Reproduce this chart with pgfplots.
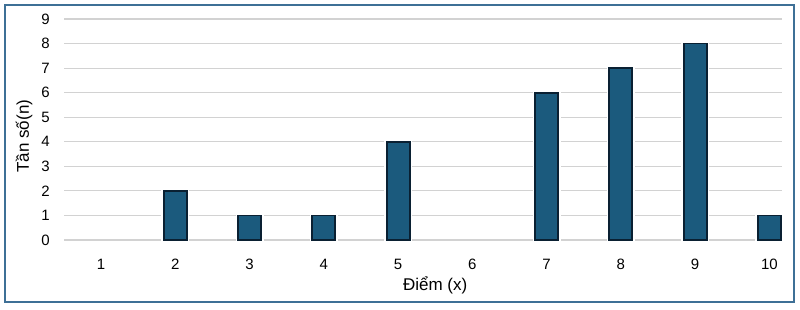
\documentclass[border=0pt]{standalone}
\usepackage{fontspec}
\setmainfont{Liberation Sans}
\usepackage{pgfplots}
\pgfplotsset{compat=1.18}
\definecolor{barfill}{RGB}{27,90,125}
\definecolor{baredge}{RGB}{10,32,50}
\definecolor{frameblue}{RGB}{62,112,150}
\definecolor{gridgray}{RGB}{210,210,210}
\begin{document}
\begin{tikzpicture}
\useasboundingbox (0,0) rectangle (800pt,309pt);
\draw[frameblue, line width=1.8pt] (5pt,7pt) rectangle (794pt,304pt);
\begin{axis}[
  at={(64pt,69pt)}, anchor=south west,
  scale only axis, width=718pt, height=221pt,
  xmin=0.5, xmax=10.17, ymin=0, ymax=9,
  axis line style={draw=none},
  tick style={draw=none},
  xtick={1,...,10}, ytick={0,...,9},
  ymajorgrids, grid style={gridgray, line width=1.2pt},
  /pgf/number format/assume math mode=true,
  ticklabel style={font=\fontsize{15}{17}\selectfont, inner sep=0pt},
  yticklabel style={anchor=east, xshift=-14pt},
  xticklabel style={anchor=north, yshift=-15pt},
  xlabel={Điểm (x)},
  ylabel={Tần số(n)},
  label style={font=\fontsize{17}{19}\selectfont},
  xlabel style={at={(axis description cs:0.517,0)}, anchor=center, yshift=-45.5pt},
  ylabel style={at={(axis description cs:-0.0557,0.47)}, anchor=center, rotate=0},
  ybar, bar width=23pt, bar shift=0pt,
  clip=false,
]
\addplot[draw=white, fill=white, line width=5pt] coordinates {(2,2) (3,1) (4,1) (5,4) (7,6) (8,7) (9,8) (10,1)};
\addplot[draw=baredge, fill=barfill, line width=1.8pt] coordinates {(2,2) (3,1) (4,1) (5,4) (7,6) (8,7) (9,8) (10,1)};
\end{axis}
\end{tikzpicture}
\end{document}
